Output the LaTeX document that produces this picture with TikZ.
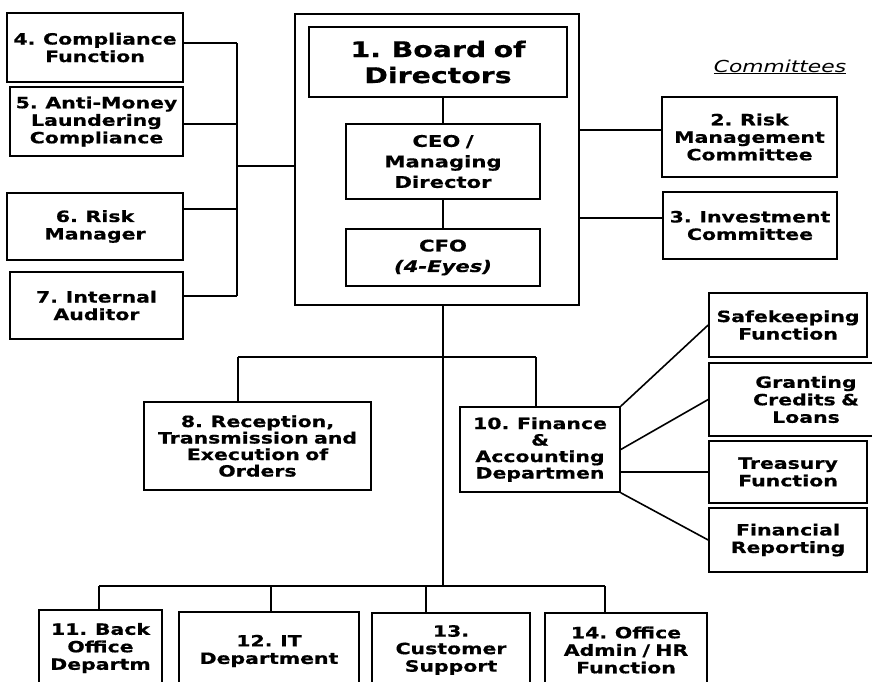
\documentclass[tikz,border=0pt]{standalone}
\usepackage{fontspec}
\setmainfont{DejaVu Sans}[FakeStretch=1.32,WordSpace=0.75,BoldFeatures={FakeBold=0.6},BoldItalicFeatures={FakeBold=0.6}]
\usetikzlibrary{calc}

\begin{document}
\begin{tikzpicture}[x=1pt,y=-1pt,line width=1.6pt,
    box/.style={draw,rectangle,inner sep=0pt,align=center,
      font=\bfseries\fontsize{15.5}{17.5}\selectfont},
    tightbox/.style={box,font=\bfseries\fontsize{15.5}{16.5}\selectfont},
    bigbox/.style={box,font=\bfseries\fontsize{21.5}{26}\selectfont},
    midbox/.style={box,font=\bfseries\fontsize{16}{20.5}\selectfont}]
  \useasboundingbox (0,0) rectangle (872,681);
  \clip (0,0) rectangle (872,681);
  % left column
  \node[box,minimum width=176,minimum height=69](b4)at(95,47.5){4. Compliance\\Function};
  \node[box,minimum width=173,minimum height=69](b5)at(96.5,121.5){5. Anti-Money\\Laundering\\Compliance};
  \node[box,minimum width=176,minimum height=67](b6)at(95,226.5){6. Risk\\Manager};
  \node[box,minimum width=173,minimum height=67](b7)at(96.5,305.5){7. Internal\\Auditor};
  % board block
  \node[draw,rectangle,minimum width=284,minimum height=291](outer)at(437,159.5){};
  \node[bigbox,minimum width=258,minimum height=70](board)at(438,62){1. Board of\\Directors};
  \node[midbox,minimum width=194,minimum height=75](ceo)at(443,161.5){CEO /\\Managing\\Director};
  \node[midbox,minimum width=194,minimum height=57](cfo)at(443,257.5){CFO\\\textit{(4-Eyes)}};
  \draw(ceo.north)--(ceo.north |- board.south);
  \draw(ceo.south)--(cfo.north);
  % committees
  \node[anchor=base,font=\itshape\fontsize{16.5}{19}\selectfont](comm)at(780,72){\underline{Committees}};
  \node[box,minimum width=175,minimum height=80](b2)at(749.5,137){2. Risk\\Management\\Committee};
  \node[box,minimum width=174,minimum height=67](b3)at(750,225.5){3. Investment\\Committee};
  \draw(outer.east |- 0,130)--(b2.west |- 0,130);
  \draw(outer.east |- 0,218)--(b3.west |- 0,218);
  % left bus
  \coordinate(lt)at(237,43);
  \coordinate(lb)at(237,296);
  \coordinate(lm)at(237,166);
  \draw(lt)--(lb);
  \draw(b4.east |- lt)--(lt);
  \draw(b5.east |- 0,124)--(lt |- 0,124);
  \draw(b6.east |- 0,209)--(lt |- 0,209);
  \draw(b7.east |- lb)--(lb);
  \draw(lm)--(lm -| outer.west);
  % middle level
  \node[tightbox,minimum width=227,minimum height=88](b8)at(257.5,446){8. Reception,\\Transmission and\\Execution of\\Orders};
  \node[tightbox,minimum width=160,minimum height=85](b10)at(540,449.5){10. Finance\\\&\\Accounting\\Departmen};
  \coordinate(hl)at(238,357);
  \coordinate(hr)at(536,357);
  \draw(hl)--(hr);
  \draw(hl)--(hl |- b8.north);
  \draw(hr)--(hr |- b10.north);
  % finance functions
  \node[box,minimum width=158,minimum height=64](safe)at(788,325){Safekeeping\\Function};
  \node[box,minimum width=194,minimum height=73](grant)at(806,399.5){Granting\\Credits \&\\Loans};
  \node[box,minimum width=158,minimum height=62](treas)at(788,472){Treasury\\Function};
  \node[box,minimum width=158,minimum height=64](fin)at(788,540){Financial\\Reporting};
  \draw(b10.north east)--(safe.west);
  \draw(b10.east)--(grant.west);
  \draw(b10.east |- treas.west)--(treas.west);
  \draw(b10.south east)--(fin.west);
  % bottom level
  \node[box,minimum width=123,minimum height=76](b11)at(100.5,648){11. Back\\Office\\Departm};
  \node[box,minimum width=180,minimum height=78](b12)at(269,651){12. IT\\Department};
  \node[box,minimum width=158,minimum height=74](b13)at(451,650){13.\\Customer\\Support};
  \node[box,minimum width=162,minimum height=74](b14)at(626,650){14. Office\\Admin / HR\\Function};
  \coordinate(bl)at(99,586);
  \coordinate(br)at(605,586);
  \draw(bl)--(br);
  \draw(outer.south -| cfo.south)--(cfo.south |- bl);
  \foreach \b/\x in {b11/99,b12/271,b13/426,b14/605}{
    \coordinate(d\b)at(\x,586);
    \draw(d\b)--(d\b |- \b.north);
  }
\end{tikzpicture}
\end{document}
